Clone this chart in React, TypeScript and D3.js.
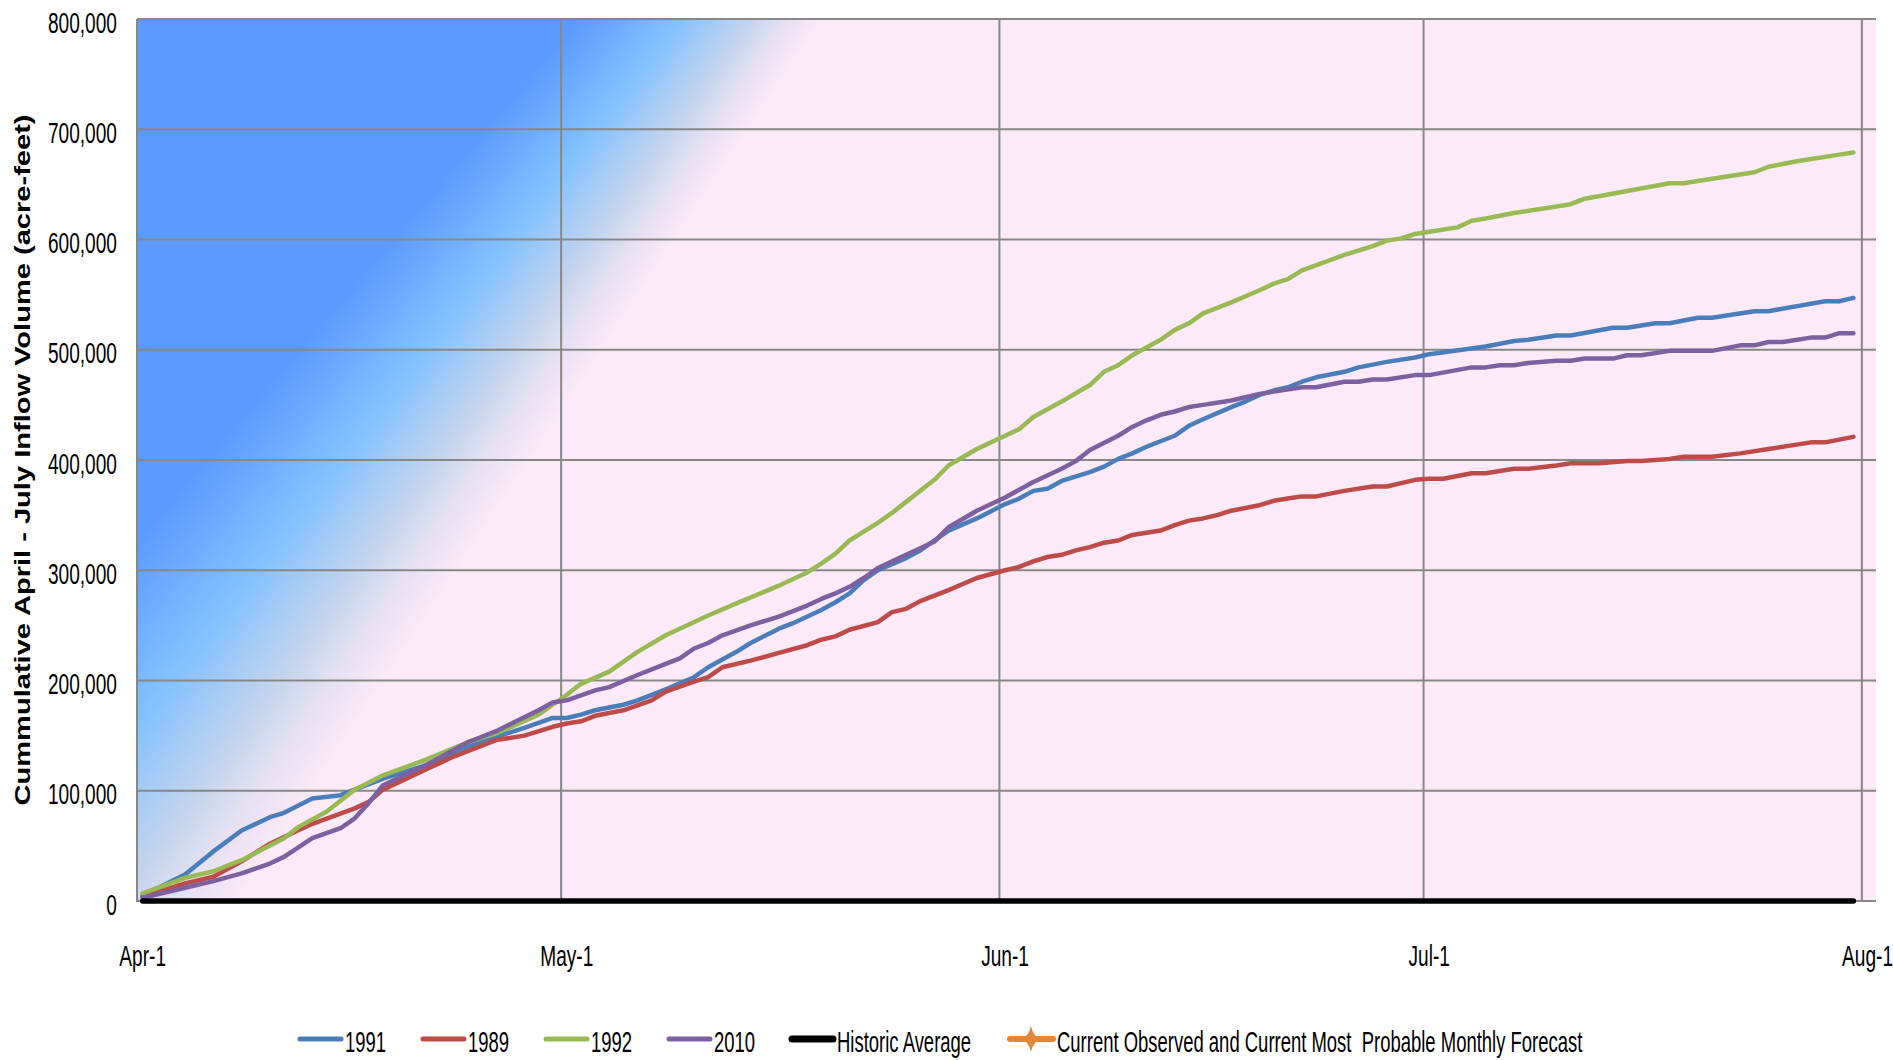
import React from "react";
import * as d3 from "d3";

// ---- data (values in thousands of acre-feet; day = days after Apr-1) ----
const seriesNames = ["1991", "1989", "1992", "2010", "Historic Average"];
const seriesColors = ["#4A7EBB", "#BE4B48", "#98B954", "#7D60A0", "#000000"];
const forecastName = "Current Observed and Current Most  Probable Monthly Forecast";
const forecastColor = "#E2873A";

const s1991: [number, number][] = [
  [0, 5], [3, 24], [5, 45], [7, 64], [9, 76], [10, 80], [12, 93], [14, 96], [15, 101], [17, 111],
  [20, 123], [23, 140], [25, 149], [27, 157], [29, 166], [30, 166], [31, 169], [32, 173], [34, 178], [35, 182],
  [37, 192], [39, 203], [40, 212], [42, 226], [43, 234], [45, 247], [46, 252], [48, 264], [49, 271], [50, 279],
  [51, 291], [52, 300], [54, 311], [55, 318], [57, 336], [59, 347], [61, 360], [62, 365], [63, 372], [64, 374],
  [65, 381], [67, 389], [68, 394], [69, 401], [70, 406], [71, 412], [73, 422], [74, 431], [75, 437], [77, 448],
  [78, 453], [79, 459], [80, 463], [81, 466], [82, 471], [83, 475], [85, 480], [86, 484], [88, 489], [90, 493],
  [91, 496], [95, 503], [97, 508], [98, 509], [100, 513], [101, 513], [104, 520], [105, 520], [107, 524], [108, 524],
  [110, 529], [111, 529], [114, 535], [115, 535], [119, 544], [120, 544], [121, 547],
];
const s1989: [number, number][] = [
  [0, 4], [3, 16], [5, 22], [7, 36], [9, 52], [10, 58], [12, 70], [15, 84], [16, 90], [17, 101],
  [20, 119], [22, 131], [25, 146], [27, 150], [29, 158], [30, 161], [31, 163], [32, 168], [34, 173], [36, 182],
  [37, 190], [39, 199], [40, 203], [41, 212], [43, 218], [45, 225], [47, 232], [48, 237], [49, 240], [50, 246],
  [52, 253], [53, 262], [54, 265], [55, 272], [57, 282], [59, 293], [61, 300], [62, 303], [63, 308], [64, 312],
  [65, 314], [66, 318], [67, 321], [68, 325], [69, 327], [70, 332], [72, 336], [73, 341], [74, 345], [75, 347],
  [76, 350], [77, 354], [79, 359], [80, 363], [81, 365], [82, 367], [83, 367], [85, 372], [87, 376], [88, 376],
  [90, 382], [91, 383], [92, 383], [94, 388], [95, 388], [97, 392], [98, 392], [100, 395], [101, 397], [103, 397],
  [105, 399], [106, 399], [108, 401], [109, 403], [111, 403], [113, 406], [115, 410], [118, 416], [119, 416], [121, 421],
];
const s1992: [number, number][] = [
  [0, 7], [3, 21], [5, 27], [7, 37], [10, 57], [11, 67], [13, 81], [15, 101], [17, 114], [20, 128],
  [23, 144], [25, 152], [28, 169], [29, 178], [30, 187], [31, 197], [33, 208], [35, 226], [37, 241], [40, 259],
  [42, 270], [45, 286], [47, 298], [48, 306], [49, 315], [50, 327], [51, 335], [52, 343], [53, 352], [54, 362],
  [56, 382], [57, 395], [59, 410], [61, 422], [62, 428], [63, 439], [65, 453], [67, 468], [68, 480], [69, 486],
  [70, 495], [72, 509], [73, 518], [74, 524], [75, 533], [77, 543], [79, 554], [80, 560], [81, 564], [82, 572],
  [85, 586], [87, 594], [88, 599], [89, 601], [90, 605], [91, 607], [93, 611], [94, 617], [95, 619], [97, 624],
  [100, 630], [101, 632], [102, 637], [105, 644], [108, 651], [109, 651], [110, 653], [114, 661], [115, 666], [117, 671],
  [120, 677], [121, 679],
];
const s2010: [number, number][] = [
  [0, 3], [3, 12], [5, 18], [7, 25], [9, 34], [10, 40], [12, 57], [14, 66], [15, 75], [16, 89],
  [17, 105], [20, 123], [23, 144], [25, 154], [28, 173], [29, 180], [30, 182], [32, 191], [33, 194], [35, 205],
  [37, 215], [38, 220], [39, 229], [40, 234], [41, 241], [43, 250], [45, 258], [47, 268], [48, 274], [49, 279],
  [50, 285], [51, 293], [52, 302], [54, 314], [55, 320], [56, 326], [57, 339], [59, 354], [61, 366], [63, 380],
  [65, 392], [66, 399], [67, 409], [69, 422], [70, 430], [71, 436], [72, 441], [73, 444], [74, 448], [75, 450],
  [77, 454], [79, 460], [80, 462], [82, 466], [83, 466], [85, 471], [86, 471], [87, 473], [88, 473], [90, 477],
  [91, 477], [94, 484], [95, 484], [96, 486], [97, 486], [98, 488], [100, 490], [101, 490], [102, 492], [104, 492],
  [105, 495], [106, 495], [108, 499], [111, 499], [113, 504], [114, 504], [115, 507], [116, 507], [118, 511], [119, 511],
  [120, 515], [121, 515],
];
const sHistoric: [number, number][] = [[0, 0], [121, 0]];
const seriesData = [s1991, s1989, s1992, s2010, sHistoric];
const valueUnit = 1000;

const xTickDays = [0, 30, 61, 91, 122];
const xTickLabels = ["Apr-1", "May-1", "Jun-1", "Jul-1", "Aug-1"];
const yTickValues = [0, 100000, 200000, 300000, 400000, 500000, 600000, 700000, 800000];
const yTitle = "Cummulative April - July Inflow Volume (acre-feet)";

// plot-area fill: angular gradient (angle in degrees -> colour)
const bgAngles = [123.5, 124.6, 125.6, 127.6, 130.3];
const bgColors = ["#FCEAF8", "#E4E0F2", "#C4D4EE", "#84C2FF", "#5B9BFF"];

// ---- layout ----
const W = 1893, H = 1060;
const PL = 137, PR = 1876, PT = 19, PB = 901;
const SX = 0.637;
const OFF = 0.4;
const GC = [1686, -1286];

export default function App() {
  React.useEffect(() => {
    document.body.style.margin = "0";
    document.body.style.overflow = "hidden";
  }, []);
  const x = d3.scaleLinear().domain([0, 123]).range([PL, PR]);
  const y = d3.scaleLinear().domain([0, 800000]).range([PB, PT]);
  const fmt = d3.format(",");
  const line = d3
    .line<[number, number]>()
    .x((d) => x(d[0] + OFF))
    .y((d) => y(d[1] * valueUnit));

  const col = d3
    .scaleLinear<string>()
    .domain(bgAngles)
    .range(bgColors)
    .interpolate(d3.interpolateRgb)
    .clamp(true);
  const R = 4000;
  const pt = (a: number) => {
    const r = (a * Math.PI) / 180;
    return `${GC[0] + R * Math.cos(r)},${GC[1] + R * Math.sin(r)}`;
  };
  const step = 0.03;
  const lo = bgAngles[0] - 0.1, hi = bgAngles[bgAngles.length - 1] + 0.1;
  const wedges = d3.range(lo, hi, step).map((a) => ({
    a,
    points: `${GC[0]},${GC[1]} ${pt(a)} ${pt(a + step * 1.8)}`,
    fill: col(a + step / 2),
  }));
  const darkWedge = `${GC[0]},${GC[1]} ${pt(hi)} ${pt(175)}`;

  const font = "'Liberation Sans', Arial, sans-serif";
  const legendY = 1039;
  const legendX = [300, 423, 546, 669, 792];

  return (
    <svg width={W} height={H} style={{ position: "absolute", left: 0, top: 0, background: "#fff", display: "block" }}>
      <defs>
        <clipPath id="plotclip">
          <rect x={PL} y={PT} width={PR - PL} height={PB - PT} />
        </clipPath>
      </defs>
      <g clipPath="url(#plotclip)">
        <rect x={PL} y={PT} width={PR - PL} height={PB - PT} fill={bgColors[0]} />
        <polygon points={darkWedge} fill={bgColors[bgColors.length - 1]} />
        {wedges.map((w) => (
          <polygon key={w.a} points={w.points} fill={w.fill} />
        ))}
      </g>
      {yTickValues.map((v) => (
        <line key={"h" + v} x1={PL} x2={PR} y1={y(v)} y2={y(v)} stroke="#878787" strokeWidth={2} />
      ))}
      {xTickDays.map((d) => (
        <line key={"v" + d} x1={x(d)} x2={x(d)} y1={PT} y2={PB + 1} stroke="#878787" strokeWidth={2} />
      ))}
      {seriesData.map((s, i) => (
        <path
          key={seriesNames[i]}
          d={line(s) || ""}
          fill="none"
          stroke={seriesColors[i]}
          strokeWidth={i === 4 ? 5.5 : 4.5}
          strokeLinejoin="round"
          strokeLinecap="round"
        />
      ))}
      {yTickValues.map((v) => (
        <text
          key={"yl" + v}
          transform={`translate(117,${y(v) + 13.5}) scale(${SX},1)`}
          textAnchor="end"
          fontFamily={font}
          fontSize={30}
          fill="#000"
        >
          {fmt(v)}
        </text>
      ))}
      {xTickDays.map((d, i) => (
        <text
          key={"xl" + d}
          transform={`translate(${x(d + OFF)},966) scale(${SX},1)`}
          textAnchor="middle"
          fontFamily={font}
          fontSize={30}
          fill="#000"
        >
          {xTickLabels[i]}
        </text>
      ))}
      <text
        transform="translate(30,460) rotate(-90)"
        textAnchor="middle"
        fontFamily={font}
        fontWeight="bold"
        fontSize={22}
        textLength={691}
        lengthAdjust="spacingAndGlyphs"
        fill="#000"
      >
        {yTitle}
      </text>
      {seriesNames.map((n, i) => (
        <g key={"lg" + n}>
          <line
            x1={legendX[i]}
            x2={legendX[i] + 41}
            y1={legendY}
            y2={legendY}
            stroke={seriesColors[i]}
            strokeWidth={i === 4 ? 7 : 5}
            strokeLinecap="round"
          />
          <text
            transform={`translate(${legendX[i] + 45},1052) scale(${SX},1)`}
            fontFamily={font}
            fontSize={29}
            fill="#000"
          >
            {n}
          </text>
        </g>
      ))}
      <g>
        <line x1={1010} x2={1053} y1={legendY} y2={legendY} stroke={forecastColor} strokeWidth={6} strokeLinecap="round" />
        <path
          d={`M1031,${legendY - 13} Q1033,${legendY - 2} 1042,${legendY} Q1033,${legendY + 2} 1031,${legendY + 13} Q1029,${legendY + 2} 1020,${legendY} Q1029,${legendY - 2} 1031,${legendY - 13} Z`}
          fill={forecastColor}
        />
        <text
          transform={`translate(1057,1052) scale(${SX},1)`}
          fontFamily={font}
          fontSize={29}
          fill="#000"
          style={{ whiteSpace: "pre" }}
        >
          {forecastName}
        </text>
      </g>
    </svg>
  );
}
